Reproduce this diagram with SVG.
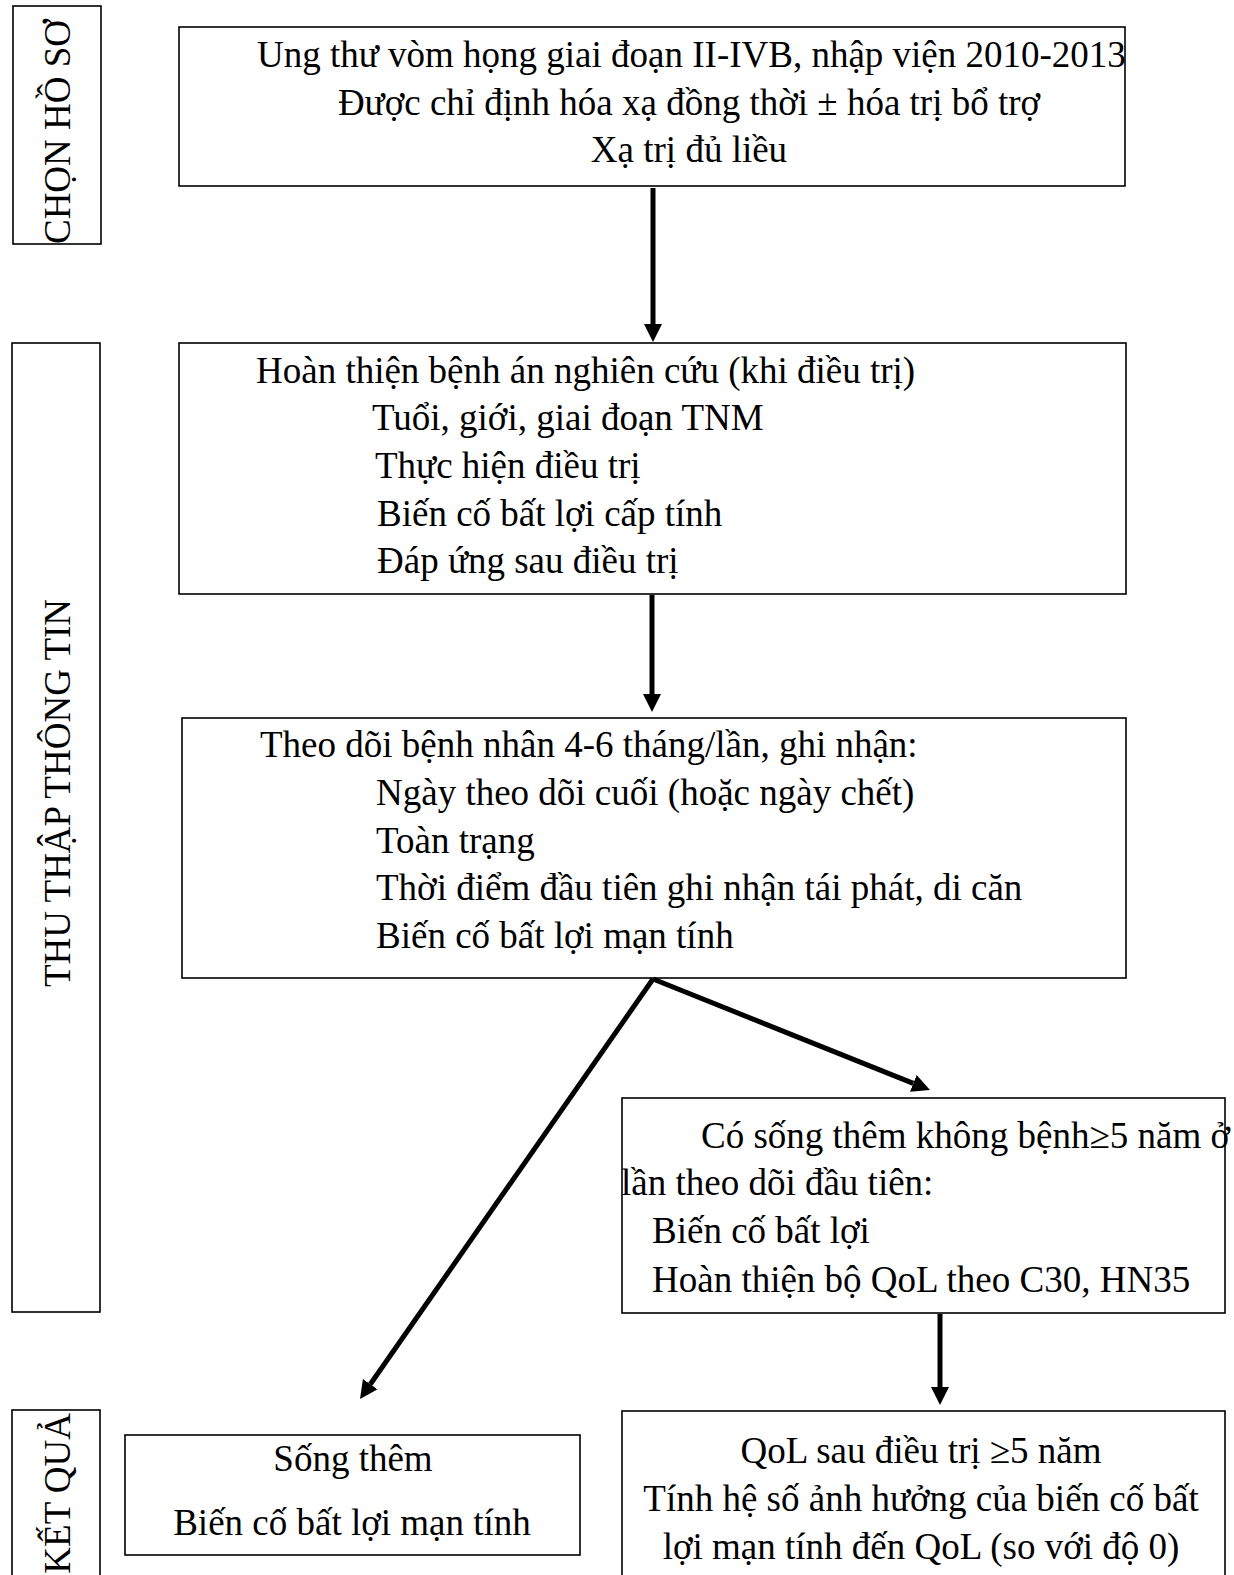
<svg xmlns="http://www.w3.org/2000/svg" width="1234" height="1575" viewBox="0 0 1234 1575">
<style>
text{font-family:"Liberation Serif","Times New Roman",serif;font-size:37px;fill:#000}
.box{fill:#fff;stroke:#000;stroke-width:1.6}
.c{text-anchor:middle}
.conn{stroke:#000;stroke-width:5;fill:none}
</style>
<defs>
<marker id="ah" markerUnits="userSpaceOnUse" markerWidth="20" markerHeight="20" refX="0" refY="9" orient="auto" viewBox="0 0 20 18">
<path d="M0,0 L18,9 L0,18 z" fill="#000"/>
</marker>
</defs>
<rect width="1234" height="1575" fill="#fff"/>

<g id="label-chon">
<rect class="box" x="13" y="6" width="88" height="238"/>
<text class="c" font-size="32" transform="translate(70,132) rotate(-90)">CHỌN HỒ SƠ</text>
</g>
<g id="label-thu">
<rect class="box" x="12" y="343" width="88" height="969"/>
<text class="c" transform="translate(70,793) rotate(-90)">THU THẬP THÔNG TIN</text>
</g>
<g id="label-ket">
<rect class="box" x="12" y="1410" width="88" height="175"/>
<text text-anchor="end" transform="translate(70,1413) rotate(-90)">KẾT QUẢ</text>
</g>

<g id="n1">
<rect class="box" x="179" y="27" width="946" height="159"/>
<text x="257" y="67">Ung thư vòm họng giai đoạn II-IVB, nhập viện 2010-2013</text>
<text class="c" x="689" y="115">Được chỉ định hóa xạ đồng thời ± hóa trị bổ trợ</text>
<text class="c" x="689" y="162">Xạ trị đủ liều</text>
</g>

<g id="n2">
<rect class="box" x="179" y="343" width="947" height="251"/>
<text x="256" y="383">Hoàn thiện bệnh án nghiên cứu (khi điều trị)</text>
<text x="372" y="430">Tuổi, giới, giai đoạn TNM</text>
<text x="375" y="478">Thực hiện điều trị</text>
<text x="377" y="526">Biến cố bất lợi cấp tính</text>
<text x="377" y="573">Đáp ứng sau điều trị</text>
</g>

<g id="n3">
<rect class="box" x="182" y="718" width="944" height="260"/>
<text x="260" y="757">Theo dõi bệnh nhân 4-6 tháng/lần, ghi nhận:</text>
<text x="376" y="805">Ngày theo dõi cuối (hoặc ngày chết)</text>
<text x="376" y="853">Toàn trạng</text>
<text x="376" y="900">Thời điểm đầu tiên ghi nhận tái phát, di căn</text>
<text x="376" y="948">Biến cố bất lợi mạn tính</text>
</g>

<g id="n4">
<rect class="box" x="622" y="1098" width="603" height="215"/>
<text x="701" y="1148">Có sống thêm không bệnh≥5 năm ở</text>
<text x="621" y="1195">lần theo dõi đầu tiên:</text>
<text x="652" y="1243">Biến cố bất lợi</text>
<text x="652" y="1292">Hoàn thiện bộ QoL theo C30, HN35</text>
</g>

<g id="n5">
<rect class="box" x="622" y="1411" width="603" height="180"/>
<text class="c" x="921" y="1463">QoL sau điều trị ≥5 năm</text>
<text class="c" x="921" y="1511">Tính hệ số ảnh hưởng của biến cố bất</text>
<text class="c" x="921" y="1559">lợi mạn tính đến QoL (so với độ 0)</text>
</g>

<g id="n6">
<rect class="box" x="125" y="1435" width="455" height="120"/>
<text class="c" x="353" y="1471">Sống thêm</text>
<text class="c" x="352" y="1535">Biến cố bất lợi mạn tính</text>
</g>

<g id="connectors">
<line class="conn" x1="653" y1="188" x2="653" y2="324" marker-end="url(#ah)"/>
<line class="conn" x1="652" y1="595" x2="652" y2="694" marker-end="url(#ah)"/>
<line class="conn" x1="653" y1="979" x2="370.3" y2="1384.2" marker-end="url(#ah)"/>
<line class="conn" x1="653" y1="979" x2="913.3" y2="1083.4" stroke-width="6" marker-end="url(#ah)"/>
<line class="conn" x1="940" y1="1314" x2="940" y2="1387" marker-end="url(#ah)"/>
</g>
</svg>
